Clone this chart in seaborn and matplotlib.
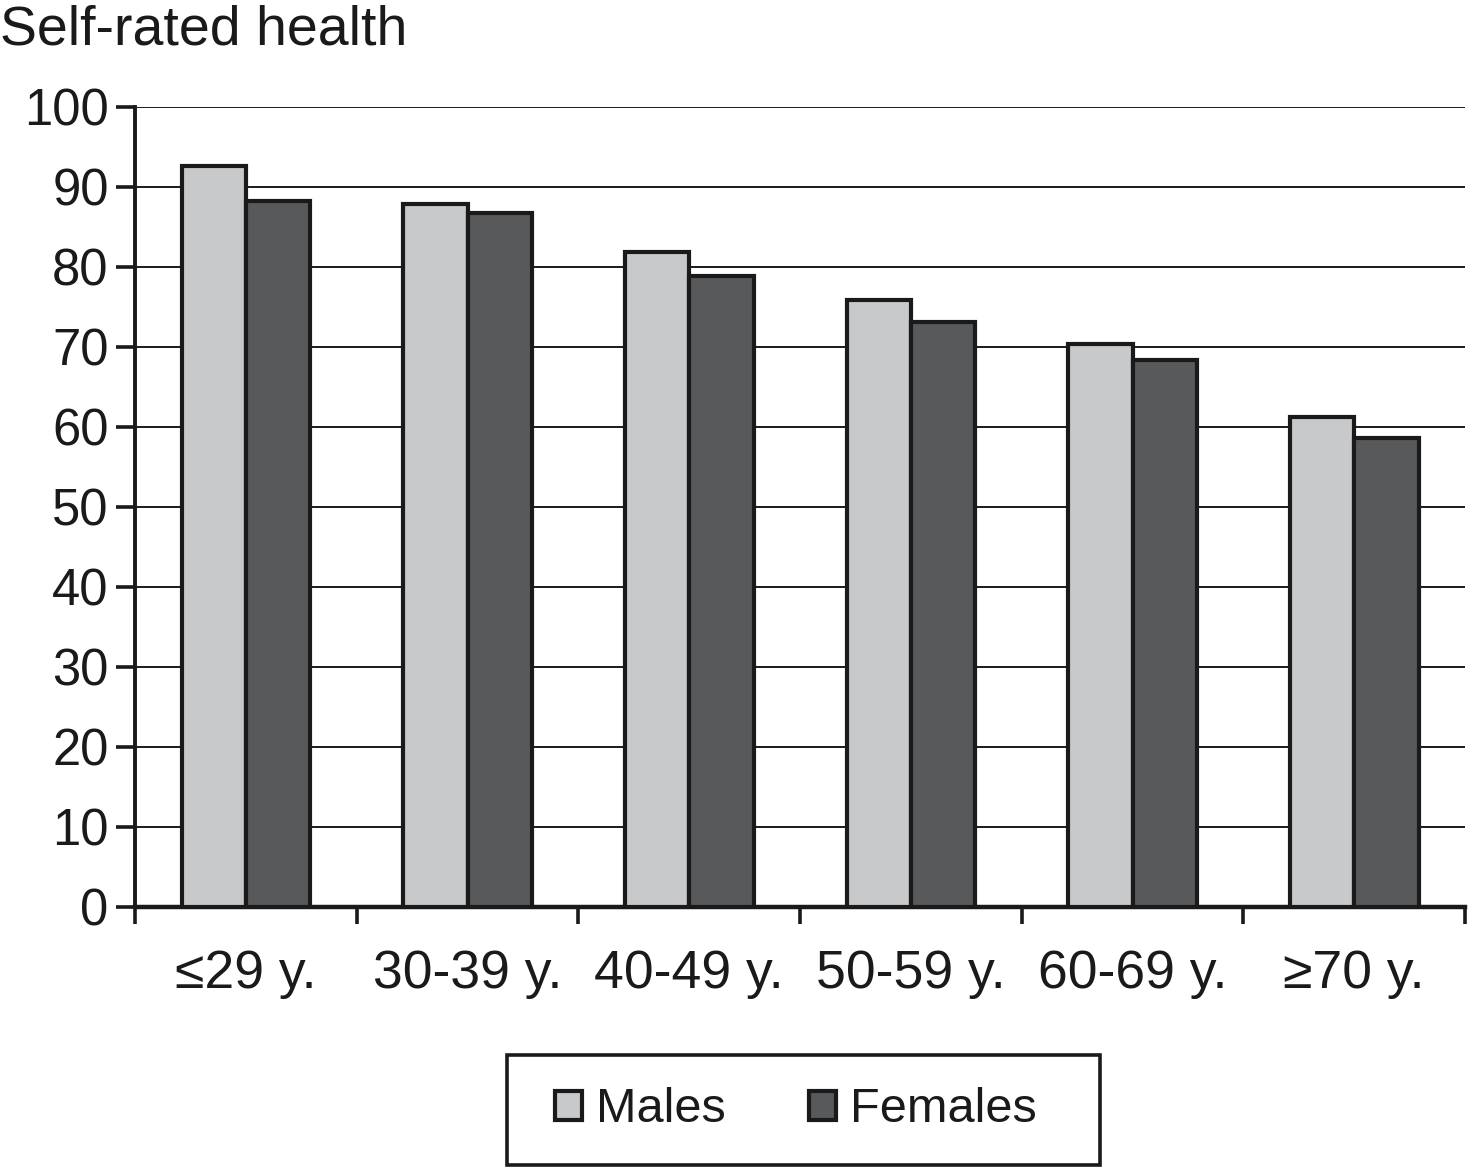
import pandas as pd
import matplotlib
matplotlib.use("Agg")
import matplotlib.pyplot as plt
import matplotlib.patches as mpatches
import seaborn as sns

# data
age_groups = ["≤29 y.", "30-39 y.", "40-49 y.", "50-59 y.", "60-69 y.", "≥70 y."]
males = [92.6, 87.8, 81.8, 75.8, 70.3, 61.2]
females = [88.2, 86.7, 78.9, 73.1, 68.4, 58.6]

df = pd.DataFrame({
    "age": age_groups * 2,
    "value": males + females,
    "sex": ["Males"] * len(age_groups) + ["Females"] * len(age_groups),
})

sns.set_style("white")
plt.rcParams['font.family'] = ['Liberation Sans', 'DejaVu Sans']

ink = "#1a1a1a"
fig = plt.figure(figsize=(14.68, 11.68), dpi=100)
ax = fig.add_axes([0.092, 0.2235, 0.906, 0.685])

sns.barplot(data=df, x="age", y="value", hue="sex", order=age_groups,
            hue_order=["Males", "Females"],
            palette={"Males": "#c8c9cb", "Females": "#58595b"},
            width=0.58, edgecolor=ink, linewidth=3.0,
            errorbar=None, legend=False, ax=ax, zorder=3)

ax.set_ylim(0, 100)
ax.set_xlim(-0.5, len(age_groups) - 0.5)
ax.set_yticks(range(0, 101, 10))
ax.yaxis.grid(True, color=ink, linewidth=1.4, zorder=0)
ax.set_axisbelow(True)

# ticks at group boundaries, labels at group centres
ax.set_xticks([i - 0.5 for i in range(len(age_groups) + 1)])
ax.set_xticklabels([])
ax.set_xticks(range(len(age_groups)), minor=True)
ax.set_xticklabels(age_groups, minor=True, fontsize=38.5, color=ink)
ax.tick_params(axis="x", which="major", direction="out", length=12, width=2.6, color=ink, bottom=True)
ax.tick_params(axis="x", which="minor", length=0, pad=30)
ax.tick_params(axis="y", direction="out", length=14, width=2.6, color=ink, labelsize=36.5,
               labelcolor=ink, pad=5, left=True)

ax.set_xlabel("")
ax.set_ylabel("")
for s in ["top", "right"]:
    ax.spines[s].set_visible(False)
ax.spines["left"].set_linewidth(2.8)
ax.spines["left"].set_color(ink)
ax.spines["bottom"].set_linewidth(3.2)
ax.spines["bottom"].set_color(ink)

fig.text(0.0, 0.974, "Self-rated health", fontsize=40, ha="left", va="center", color=ink)

handles = [mpatches.Patch(facecolor="#c8c9cb", edgecolor=ink, linewidth=3.0, label="Males"),
           mpatches.Patch(facecolor="#58595b", edgecolor=ink, linewidth=3.0, label="Females")]
leg = fig.legend(handles=handles, loc="center", bbox_to_anchor=(796 / 1468, 1 - 1110 / 1168), ncol=2,
                 fontsize=35, frameon=False, handlelength=0.55, handleheight=0.55,
                 handletextpad=0.3, columnspacing=1.7, borderpad=0, borderaxespad=0)
for t in leg.get_texts():
    t.set_color(ink)

# legend box drawn separately (wider than tall padding)
fig.patches.append(mpatches.Rectangle((507 / 1468, 1 - 1165 / 1168), 593 / 1468, 110 / 1168,
                                      transform=fig.transFigure, fill=False,
                                      edgecolor=ink, linewidth=2.6))

fig.savefig("out.png", dpi=100)
